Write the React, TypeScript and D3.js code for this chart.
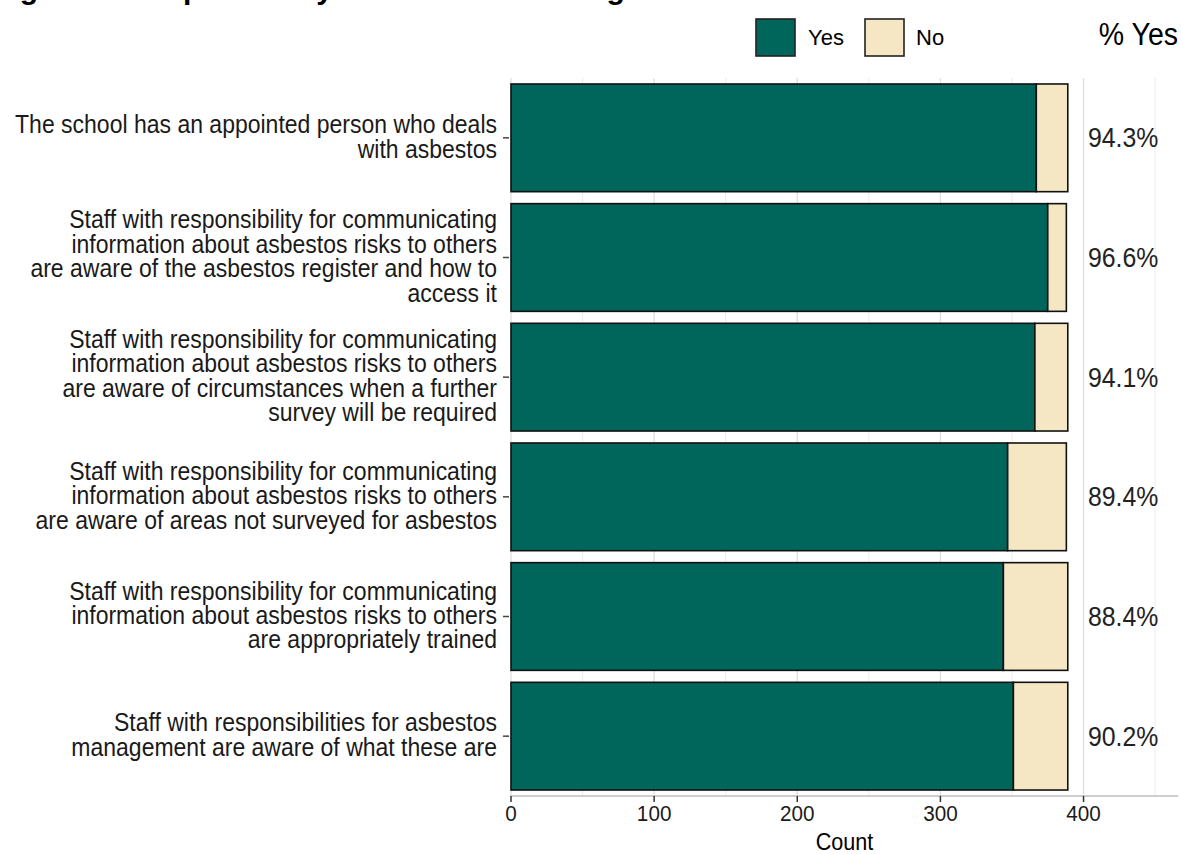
import * as d3 from 'd3';

// Survey items, top to bottom
const itemLabels: string[][] = [
  ['The school has an appointed person who deals', 'with asbestos'],
  ['Staff with responsibility for communicating', 'information about asbestos risks to others', 'are aware of the asbestos register and how to', 'access it'],
  ['Staff with responsibility for communicating', 'information about asbestos risks to others', 'are aware of circumstances when a further', 'survey will be required'],
  ['Staff with responsibility for communicating', 'information about asbestos risks to others', 'are aware of areas not surveyed for asbestos'],
  ['Staff with responsibility for communicating', 'information about asbestos risks to others', 'are appropriately trained'],
  ['Staff with responsibilities for asbestos', 'management are aware of what these are'],
];
const yesCounts = [367, 375, 366, 347, 344, 351];
const noCounts = [22, 13, 23, 41, 45, 38];
const majorTicks = [0, 100, 200, 300, 400];
const minorTicks = [50, 150, 250, 350, 450];

const WIDTH = 1181;
const HEIGHT = 854;
const FONT = 'Arial, "Liberation Sans", sans-serif';
const YES_COLOR = '#00655b';
const NO_COLOR = '#f5e6c4';
const SX = 0.92; // the source text is a bit condensed

function CText({ x, y, size, anchor = 'start', fill = '#1a1a1a', children }: any) {
  return (
    <text transform={`translate(${x},${y}) scale(${SX},1)`} fontSize={size} textAnchor={anchor} fill={fill}>
      {children}
    </text>
  );
}

export default function App() {
  const x = d3.scaleLinear().domain([0, 466]).range([511, 1178]);
  const y = d3
    .scaleBand<number>()
    .domain(d3.range(itemLabels.length))
    .range([78, 796])
    .paddingInner(0.1)
    .paddingOuter(0.05);

  const pct = d3.format('.1f');
  const lineH = 24.5;

  return (
    <svg
      width={WIDTH}
      height={HEIGHT}
      style={{ position: 'absolute', left: 0, top: 0, background: '#fff' }}
      fontFamily={FONT}
    >
      {/* title, cropped off the top in the source */}
      <text x={-7} y={-1} fontSize={30} fontWeight="bold" fill="#000">
        Figure 9: Responsibility for asbestos management
      </text>

      {/* grid */}
      {minorTicks.map(t => (
        <line key={'mi' + t} x1={x(t)} x2={x(t)} y1={78} y2={796} stroke="#ececec" strokeWidth={1} />
      ))}
      {majorTicks.map(t => (
        <line key={'ma' + t} x1={x(t)} x2={x(t)} y1={78} y2={796} stroke="#dedede" strokeWidth={1.3} />
      ))}

      {/* bars */}
      {itemLabels.map((_, i) => {
        const y0 = y(i)!;
        const bh = y.bandwidth();
        return (
          <g key={'b' + i}>
            <rect x={x(0)} y={y0} width={x(yesCounts[i]) - x(0)} height={bh} fill={YES_COLOR} stroke="#111" strokeWidth={1.6} />
            <rect
              x={x(yesCounts[i])}
              y={y0}
              width={x(yesCounts[i] + noCounts[i]) - x(yesCounts[i])}
              height={bh}
              fill={NO_COLOR}
              stroke="#111"
              strokeWidth={1.6}
            />
            <CText x={1088} y={y0 + bh / 2 + 9.5} size={27} fill="#222">
              {pct((yesCounts[i] / (yesCounts[i] + noCounts[i])) * 100)}%
            </CText>
          </g>
        );
      })}

      {/* y axis ticks and wrapped labels */}
      {itemLabels.map((lines, i) => {
        const cy = y(i)! + y.bandwidth() / 2;
        const top = cy - ((lines.length - 1) * lineH) / 2 + 7.5;
        return (
          <g key={'y' + i}>
            <line x1={503} x2={509} y1={cy} y2={cy} stroke="#444" strokeWidth={1.5} />
            <CText x={497} y={top} size={25} anchor="end">
              {lines.map((l, j) => (
                <tspan key={j} x={0} dy={j === 0 ? 0 : lineH}>
                  {l}
                </tspan>
              ))}
            </CText>
          </g>
        );
      })}

      {/* x axis */}
      <line x1={x(0)} x2={1178} y1={796} y2={796} stroke="#bdbdbd" strokeWidth={1.5} />
      {majorTicks.map(t => (
        <g key={'xt' + t}>
          <line x1={x(t)} x2={x(t)} y1={796} y2={802} stroke="#333" strokeWidth={1.5} />
          <CText x={x(t)} y={821} size={22.5} anchor="middle">
            {t}
          </CText>
        </g>
      ))}
      <CText x={(x(0) + 1178) / 2} y={850} size={23.5} anchor="middle" fill="#000">
        Count
      </CText>

      {/* legend */}
      <rect x={756} y={19} width={39} height={37} fill={YES_COLOR} stroke="#222" strokeWidth={1.6} />
      <text x={808} y={45} fontSize={22} fill="#000">Yes</text>
      <rect x={865} y={19} width={39} height={37} fill={NO_COLOR} stroke="#222" strokeWidth={1.6} />
      <text x={916} y={45} fontSize={22} fill="#000">No</text>

      <CText x={1178} y={45} size={31} anchor="end" fill="#000">% Yes</CText>
    </svg>
  );
}
